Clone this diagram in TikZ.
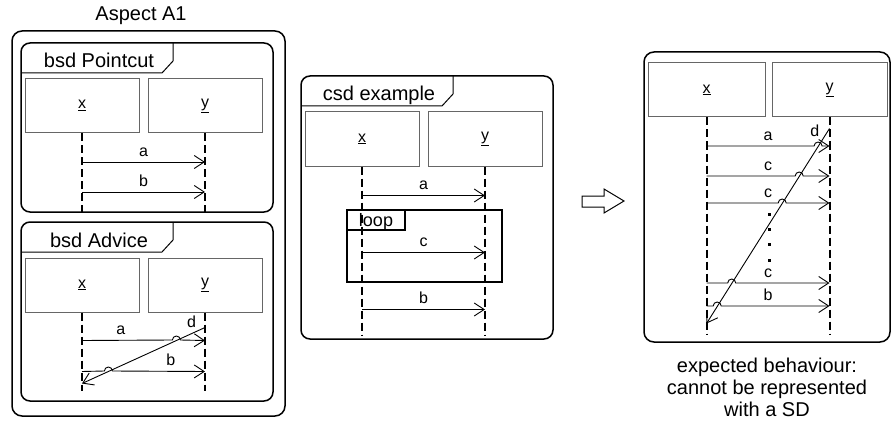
\documentclass[tikz,border=0pt]{standalone}
\usepackage{fontspec}
\setmainfont{Liberation Sans}
\usetikzlibrary{arrows.meta}

\begin{document}
\begin{tikzpicture}[x=1pt,y=-1pt,
    frame/.style={draw=black,line width=1.5pt,rounded corners=9pt},
    tab/.style={draw=black,line width=1pt},
    title/.style={anchor=base,inner sep=0pt,font=\fontsize{20}{22}\selectfont},
    obj/.style={rectangle,draw=black!60,line width=1pt,minimum width=114pt,minimum height=54pt,inner sep=0pt,font=\fontsize{16}{18}\selectfont},
    life/.style={line width=2pt,dash pattern=on 8pt off 4pt},
    msg/.style={line width=0.9pt,-{Straight Barb[length=10pt,width=13pt]}},
    lbl/.style={anchor=base,inner sep=0pt,yshift=6pt,font=\fontsize{16}{18}\selectfont}]

    \useasboundingbox (0,0) rectangle (891,425);

    % aspect A1
    \node[title] (asp) at (141,21) {Aspect A1};
    \draw[frame,rounded corners=10pt] (12,31) rectangle (285,416);

    % bsd Pointcut
    \draw[frame] (21,43) rectangle (273,212);
    \draw[tab] (21,73) -- (162,73) -- (173,61) -- (173,43);
    \node[title] (pc) at (99,68) {bsd Pointcut};
    \node[obj] (px) at (82,105.5) {\underline{x}};
    \node[obj] (py) at (205,105.5) {\underline{y}};
    \draw[life] (px.south) -- ++(0,79.5);
    \draw[life] (py.south) -- ++(0,79.5);
    \draw[msg] ([yshift=-29pt]px.south) -- node[lbl] {a} ([yshift=-29pt]py.south);
    \draw[msg] ([yshift=-59pt]px.south) -- node[lbl] {b} ([yshift=-59pt]py.south);

    % bsd Advice
    \draw[frame] (21,222) rectangle (273,401);
    \draw[tab] (21,252) -- (162,252) -- (173,240) -- (173,222);
    \node[title] (adv) at (99,247) {bsd Advice};
    \node[obj] (ax) at (82,285) {\underline{x}};
    \node[obj] (ay) at (205,285) {\underline{y}};
    \draw[life] (ax.south) -- ++(0,78);
    \draw[life] (ay.south) -- ++(0,78);
    \draw[msg] ([yshift=-28pt]ax.south) -- node[lbl,pos=0.43] {a} (172.4,340)
        arc[start angle=180,end angle=0,radius=4pt] -- ([yshift=-28pt]ay.south);
    \draw[msg] ([yshift=-59pt]ax.south) -- (104.4,371)
        arc[start angle=180,end angle=0,radius=4pt] -- node[lbl,pos=0.63] {b} ([yshift=-59pt]ay.south);
    \draw[msg] ([yshift=-15pt]ay.south) -- node[lbl,pos=0.11] {d} ([yshift=-71pt]ax.south);

    % csd example
    \draw[frame] (301,76) rectangle (553,339);
    \draw[tab] (301,106) -- (442,106) -- (453,94) -- (453,76);
    \node[title] (csd) at (379,101) {csd example};
    \node[obj] (cx) at (362,139) {\underline{x}};
    \node[obj] (cy) at (485,139) {\underline{y}};
    \draw[life] (cx.south) -- ++(0,169);
    \draw[life] (cy.south) -- ++(0,169);
    \draw[msg] ([yshift=-29pt]cx.south) -- node[lbl] {a} ([yshift=-29pt]cy.south);
    \draw[line width=1.3pt] (347,210) rectangle (502,282);
    \draw[line width=1.3pt] (347,230) -- (405,230) -- (405,210);
    \node[anchor=base,inner sep=0pt,font=\fontsize{18}{20}\selectfont] (loop) at (376,226) {loop};
    \draw[msg] ([yshift=-86pt]cx.south) -- node[lbl] {c} ([yshift=-86pt]cy.south);
    \draw[msg] ([yshift=-143pt]cx.south) -- node[lbl] {b} ([yshift=-143pt]cy.south);

    % block arrow
    \draw[line width=1pt] (582,196) -- (604,196) -- (604,189) -- (624,201)
        -- (604,213) -- (604,207) -- (582,207) -- cycle;

    % expected behaviour
    \draw[frame,rounded corners=10pt] (644,52) rectangle (890,342);
    \node[obj,minimum width=117pt] (ex) at (706.5,90) {\underline{x}};
    \node[obj,minimum width=115pt] (ey) at (829.5,90) {\underline{y}};
    \draw[life] (ex.south) -- ++(0,217);
    \draw[life] (ey.south) -- ++(0,217);
    \foreach \y/\hx/\t in {146/818.1/a,176/799.2/c,203/782.2/c,283/731.7/c,306/717.2/b} {
        \draw[msg] (ex.south |- 0,\y) -- (\hx-4,\y)
            arc[start angle=180,end angle=0,radius=4pt] -- (ey.south |- 0,\y);
        \node[lbl] (el\y) at (768,\y) {\t};
    }
    \foreach \y in {214,229,244,260}
        \fill (767.5,\y-1.5) rectangle ++(3,3);
    \draw[msg] ([yshift=-11pt]ey.south) -- node[lbl,pos=0.07,xshift=-6pt] {d} ([yshift=-206pt]ex.south);
    \node[align=center,font=\fontsize{20}{22}\selectfont] (cap) at (767,387)
        {expected behaviour:\\cannot be represented\\with a SD};
\end{tikzpicture}
\end{document}
